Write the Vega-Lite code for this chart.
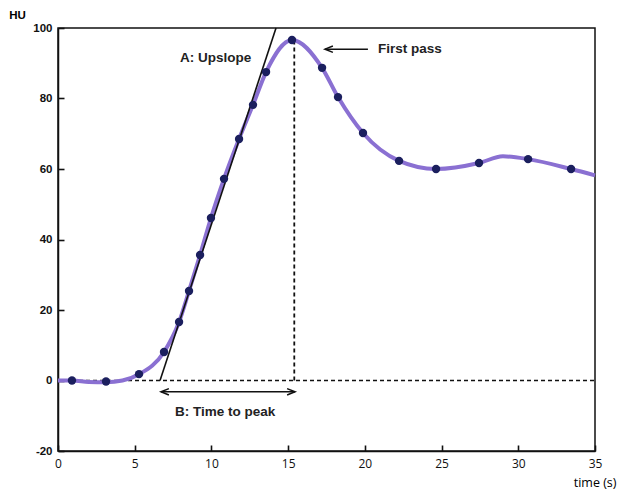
{
  "$schema": "https://vega.github.io/schema/vega-lite/v6.json",
  "width": 537,
  "height": 423,
  "autosize": "none",
  "padding": {"left": 58, "top": 28, "right": 24, "bottom": 40},
  "background": "white",
  "config": {
    "view": {"stroke": "#111", "strokeWidth": 1.5},
    "axis": {"grid": false, "domainColor": "#111", "domainWidth": 1.5, "tickColor": "#111", "tickWidth": 1.6, "labelColor": "#111", "zindex": 1}
  },
  "datasets": {
    "dots": [
      {"t": 0.91, "hu": 0.0}, {"t": 3.13, "hu": -0.3}, {"t": 5.28, "hu": 1.8}, {"t": 6.91, "hu": 8.1},
      {"t": 7.89, "hu": 16.6}, {"t": 8.54, "hu": 25.4}, {"t": 9.26, "hu": 35.6}, {"t": 9.97, "hu": 46.1},
      {"t": 10.82, "hu": 57.2}, {"t": 11.8, "hu": 68.5}, {"t": 12.71, "hu": 78.2}, {"t": 13.56, "hu": 87.5},
      {"t": 15.25, "hu": 96.6}, {"t": 17.21, "hu": 88.7}, {"t": 18.25, "hu": 80.4}, {"t": 19.88, "hu": 70.2},
      {"t": 22.23, "hu": 62.3}, {"t": 24.64, "hu": 60.0}, {"t": 27.44, "hu": 61.7}, {"t": 30.64, "hu": 62.8},
      {"t": 33.44, "hu": 60.0}
    ],
    "curve": [
      {"t": 0.0, "hu": 0.0}, {"t": 0.91, "hu": 0.0}, {"t": 2.0, "hu": -0.4}, {"t": 3.13, "hu": -0.5},
      {"t": 4.2, "hu": 0.0}, {"t": 5.28, "hu": 1.8}, {"t": 6.91, "hu": 8.1},
      {"t": 7.89, "hu": 16.6}, {"t": 8.54, "hu": 25.4}, {"t": 9.26, "hu": 35.6}, {"t": 9.97, "hu": 46.1},
      {"t": 10.82, "hu": 57.2}, {"t": 11.8, "hu": 68.5}, {"t": 12.71, "hu": 78.2}, {"t": 13.56, "hu": 87.5},
      {"t": 15.25, "hu": 96.6}, {"t": 17.21, "hu": 88.7}, {"t": 18.25, "hu": 80.4}, {"t": 19.88, "hu": 70.2},
      {"t": 22.23, "hu": 62.3}, {"t": 24.64, "hu": 60.0}, {"t": 27.44, "hu": 61.7}, {"t": 29.0, "hu": 63.6},
      {"t": 30.64, "hu": 62.8}, {"t": 33.44, "hu": 60.0}, {"t": 35.0, "hu": 58.2}
    ],
    "upslope": [{"t": 6.65, "hu": 0}, {"t": 14.21, "hu": 100}],
    "hdash": [{"t": 0, "t2": 35, "hu": 0}],
    "vdash": [{"t": 15.4, "hu": 0, "hu2": 96}],
    "arrows": [{"t": 6.71, "t2": 15.45, "hu": -3.2}, {"t": 17.4, "t2": 20.2, "hu": 94.0}],
    "heads": [
      {"t": 6.71, "hu": -3.2, "dir": "left"},
      {"t": 15.45, "hu": -3.2, "dir": "right"},
      {"t": 17.4, "hu": 94.0, "dir": "left"}
    ],
    "labels": [
      {"t": 10.27, "hu": 91.6, "label": "A: Upslope", "align": "center"},
      {"t": 10.9, "hu": -8.9, "label": "B: Time to peak", "align": "center"},
      {"t": 20.86, "hu": 94.0, "label": "First pass", "align": "left"}
    ]
  },
  "encoding": {
    "x": {
      "field": "t", "type": "quantitative",
      "scale": {"domain": [0, 35], "nice": false, "zero": false},
      "axis": {
        "values": [0, 5, 10, 15, 20, 25, 30, 35], "tickSize": -6, "labelPadding": 13,
        "labelFont": "Open Sans", "labelFontSize": 12, "labelFlush": false,
        "title": "time (s)", "titleFont": "Open Sans", "titleFontSize": 12.5, "titleFontWeight": "normal",
        "titleAlign": "right", "titleAnchor": null, "titleX": 558, "titleY": 35, "titleBaseline": "alphabetic"
      }
    },
    "y": {
      "field": "hu", "type": "quantitative",
      "scale": {"domain": [-20, 100], "nice": false, "zero": false},
      "axis": {
        "values": [-20, 0, 20, 40, 60, 80, 100], "tickSize": -6, "labelPadding": 12,
        "labelExpr": "'' + datum.value",
        "labelFont": "Liberation Sans", "labelFontSize": 11.5, "labelFontWeight": "bold", "labelFlush": false,
        "title": "HU", "titleFont": "Liberation Sans", "titleFontSize": 11.5, "titleFontWeight": "bold",
        "titleAngle": 0, "titleAlign": "center", "titleAnchor": null, "titleX": -41, "titleY": -10, "titleBaseline": "alphabetic"
      }
    }
  },
  "layer": [
    {
      "data": {"name": "hdash"},
      "mark": {"type": "rule", "color": "#111", "strokeWidth": 1.5, "strokeDash": [4, 3]},
      "encoding": {"x2": {"field": "t2"}}
    },
    {
      "data": {"name": "vdash"},
      "mark": {"type": "rule", "color": "#111", "strokeWidth": 1.8, "strokeDash": [4, 3]},
      "encoding": {"y2": {"field": "hu2"}}
    },
    {
      "data": {"name": "curve"},
      "mark": {"type": "line", "color": "#8a70d2", "strokeWidth": 4, "interpolate": "monotone"},
      "encoding": {}
    },
    {
      "data": {"name": "upslope"},
      "mark": {"type": "line", "color": "#111", "strokeWidth": 1.6},
      "encoding": {}
    },
    {
      "data": {"name": "dots"},
      "mark": {"type": "point", "filled": true, "color": "#1b1f5e", "size": 70, "opacity": 1},
      "encoding": {}
    },
    {
      "data": {"name": "arrows"},
      "mark": {"type": "rule", "color": "#111", "strokeWidth": 1.5},
      "encoding": {"x2": {"field": "t2"}}
    },
    {
      "data": {"name": "heads"},
      "transform": [{"filter": "datum.dir == 'left'"}],
      "mark": {"type": "point", "shape": "M3,-1.2L0,0L3,1.2", "filled": false, "color": "#111", "strokeWidth": 1.5, "size": 28, "opacity": 1},
      "encoding": {}
    },
    {
      "data": {"name": "heads"},
      "transform": [{"filter": "datum.dir == 'right'"}],
      "mark": {"type": "point", "shape": "M-3,-1.2L0,0L-3,1.2", "filled": false, "color": "#111", "strokeWidth": 1.5, "size": 28, "opacity": 1},
      "encoding": {}
    },
    {
      "data": {"name": "labels"},
      "transform": [{"filter": "datum.align == 'center'"}],
      "mark": {"type": "text", "align": "center", "font": "Liberation Sans", "fontSize": 13.5, "fontWeight": "bold", "color": "#222", "baseline": "middle"},
      "encoding": {"text": {"field": "label"}}
    },
    {
      "data": {"name": "labels"},
      "transform": [{"filter": "datum.align == 'left'"}],
      "mark": {"type": "text", "align": "left", "font": "Liberation Sans", "fontSize": 13.5, "fontWeight": "bold", "color": "#222", "baseline": "middle"},
      "encoding": {"text": {"field": "label"}}
    }
  ]
}
